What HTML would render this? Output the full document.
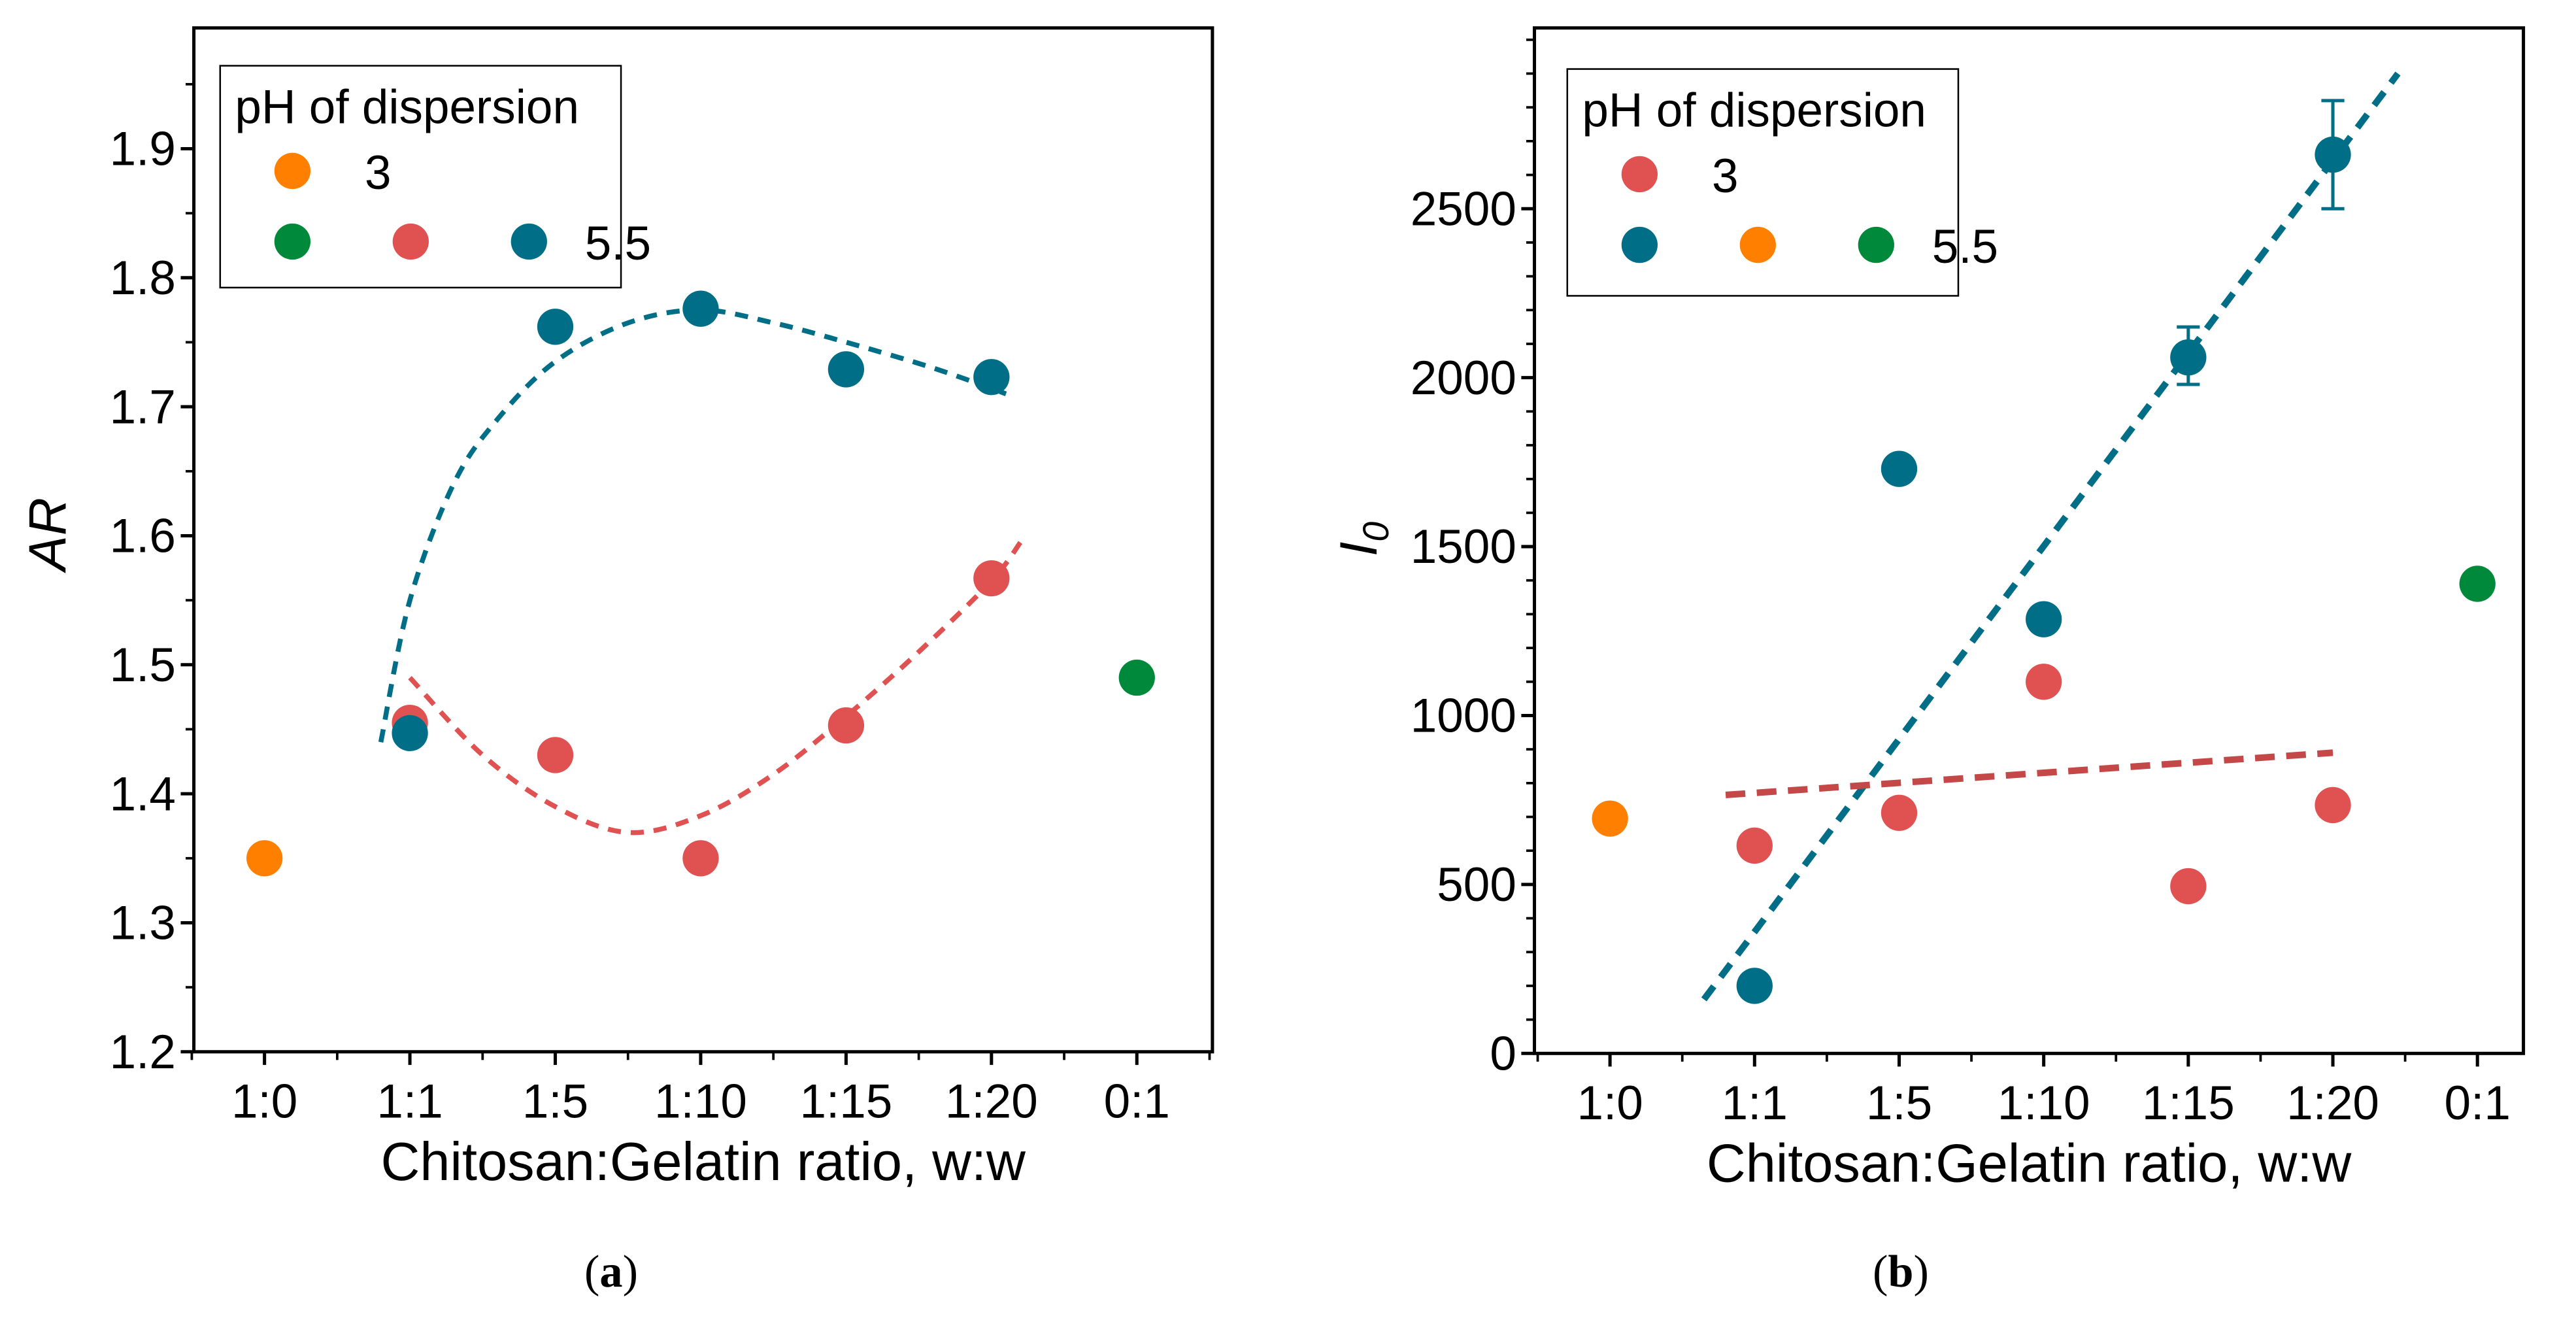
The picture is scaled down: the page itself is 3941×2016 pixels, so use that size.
<!DOCTYPE html>
<html><head><meta charset="utf-8"><style>
html,body{margin:0;padding:0;background:#fff;}
svg{display:block;}
text{font-family:"Liberation Sans",sans-serif;fill:#000;}
</style></head><body>
<svg id="chart" xmlns="http://www.w3.org/2000/svg" width="3941" height="2016" viewBox="0 0 1568 802" preserveAspectRatio="none">
</svg>
<script>
// ---- data panel (a)
const categories = ["1:0","1:1","1:5","1:10","1:15","1:20","0:1"];
const arTicks = [1.2,1.3,1.4,1.5,1.6,1.7,1.8,1.9];
const arOrange = [[0,1.35]];
const arRed = [[1,1.455],[2,1.43],[3,1.35],[4,1.453],[5,1.567]];
const arBlue = [[1,1.447],[2,1.762],[3,1.776],[4,1.729],[5,1.723]];
const arGreen = [[6,1.49]];
const arBlueFit = [[0.8,1.44],[1,1.55],[1.3,1.64],[1.6,1.69],[2,1.735],[2.5,1.765],[3,1.775],[3.5,1.765],[4,1.75],[4.6,1.73],[5.1,1.71]];
const arRedFit = [[1,1.49],[1.5,1.43],[2,1.39],[2.5,1.37],[3,1.383],[3.5,1.415],[4,1.46],[4.5,1.51],[5,1.565],[5.2,1.595]];
// ---- data panel (b)
const ioTicks = [0,500,1000,1500,2000,2500];
const ioOrange = [[0,695]];
const ioRed = [[1,615],[2,712],[3,1100],[4,495],[5,735]];
const ioBlue = [[1,200],[2,1730],[3,1285],[4,2060],[5,2660]];
const ioBlueErr = [[4,1980,2150],[5,2500,2820]];
const ioGreen = [[6,1390]];
const ioBlueFit = [[0.65,160],[5.45,2900]];
const ioRedFit = [[0.8,765],[5.0,890]];

const NS="http://www.w3.org/2000/svg";
const svg=document.getElementById('chart');
function mk(tag,attrs,parent){const e=document.createElementNS(NS,tag);for(const k in attrs)e.setAttribute(k,attrs[k]);(parent||svg).appendChild(e);return e;}
const C={orange:"#ff8000",red:"#e05252",blue:"#006e87",green:"#00893a",red2:"#c44848"};

function smoothPath(P){
  let d='M'+P[0][0]+','+P[0][1];
  for(let i=0;i<P.length-1;i++){
    const p0=P[Math.max(0,i-1)],p1=P[i],p2=P[i+1],p3=P[Math.min(P.length-1,i+2)];
    const c1=[p1[0]+(p2[0]-p0[0])/6,p1[1]+(p2[1]-p0[1])/6];
    const c2=[p2[0]-(p3[0]-p1[0])/6,p2[1]-(p3[1]-p1[1])/6];
    d+=` C${c1[0]},${c1[1]} ${c2[0]},${c2[1]} ${p2[0]},${p2[1]}`;
  }
  return d;
}

function panel(o){
  const g=mk('g',{});
  
  
  const X=i=>o.x0+i*o.dx;
  const Y=v=>o.yb-(v-o.vmin)*o.k;
  const box=mk('rect',{x:o.L,y:o.T,width:o.R-o.L,height:o.B-o.T,fill:'none',stroke:'#000','stroke-width':2},g);
  
  
  o.ticks.forEach(t=>{
    mk('line',{x1:o.L-8,x2:o.L,y1:Y(t),y2:Y(t),stroke:'#000','stroke-width':2},g);
    const tx=mk('text',{x:o.L-11,y:Y(t)+10,'text-anchor':'end','font-size':29},g);
    tx.textContent=o.fmt(t);
    
    
  });
  for(let v=o.vmin+o.minor;Y(v)>o.T+2;v+=o.minor){
    mk('line',{x1:o.L-5,x2:o.L,y1:Y(v),y2:Y(v),stroke:'#000','stroke-width':1.5},g);
  }
  categories.forEach((c,i)=>{
    mk('line',{x1:X(i),x2:X(i),y1:o.B,y2:o.B+8,stroke:'#000','stroke-width':2},g);
    mk('line',{x1:X(i-0.5),x2:X(i-0.5),y1:o.B,y2:o.B+5,stroke:'#000','stroke-width':1.5},g);
    const tx=mk('text',{x:X(i),y:o.B+40,'text-anchor':'middle','font-size':29},g);
    tx.textContent=c;
    
    
  });
  if(X(6.5)<=o.R+1) mk('line',{x1:X(6.5),x2:X(6.5),y1:o.B,y2:o.B+5,stroke:'#000','stroke-width':1.5},g);
  const xt=mk('text',{x:(o.L+o.R)/2,y:o.B+78,'text-anchor':'middle','font-size':33},g);
  xt.textContent='Chitosan:Gelatin ratio, w:w';
  
  
  o.fits.forEach(f=>{
    const p=mk('path',{d:smoothPath(f.pts.map(q=>[X(q[0]),Y(q[1])])),fill:'none',stroke:f.c,'stroke-width':f.w,'stroke-dasharray':f.d},g);
    
    
  });
  (o.err||[]).forEach(e=>{
    mk('line',{x1:X(e[0]),x2:X(e[0]),y1:Y(e[1]),y2:Y(e[2]),stroke:C.blue,'stroke-width':2},g);
    mk('line',{x1:X(e[0])-7,x2:X(e[0])+7,y1:Y(e[1]),y2:Y(e[1]),stroke:C.blue,'stroke-width':2},g);
    mk('line',{x1:X(e[0])-7,x2:X(e[0])+7,y1:Y(e[2]),y2:Y(e[2]),stroke:C.blue,'stroke-width':2},g);
  });
  o.series.forEach(s=>{
    s.pts.forEach(q=>{
      const c=mk('circle',{cx:X(q[0]),cy:Y(q[1]),r:11,fill:s.c},g);
      
      
    });
  });
  const lg=mk('g',{},g);
  
  
  mk('rect',{x:o.lx,y:o.ly,width:o.lw,height:o.lh,fill:'#fff',stroke:'#000','stroke-width':1},lg);
  const lt=mk('text',{x:o.lx+9,y:o.ly+35,'font-size':29},lg);
  lt.textContent='pH of dispersion';
  o.leg1.forEach((c,i)=>{mk('circle',{cx:o.lx+44+i*72,cy:o.ly+64,r:11,fill:c},lg);});
  const t3=mk('text',{x:o.lx+88,y:o.ly+75,'font-size':29},lg);t3.textContent='3';
  o.leg2.forEach((c,i)=>{mk('circle',{cx:o.lx+44+i*72,cy:o.ly+107,r:11,fill:c},lg);});
  const t5=mk('text',{x:o.lx+222,y:o.ly+118,'font-size':29},lg);t5.textContent='5.5';
  const yt=mk('text',{transform:`translate(${o.ytx},${o.yty}) rotate(-90)`,'text-anchor':'middle','font-size':32,'font-style':'italic'},g);
  if(o.io){yt.innerHTML='I<tspan font-size="22" dy="7">0</tspan>';}else{yt.textContent='AR';}
  
  
  const cap=mk('text',{x:o.capx,y:783,'text-anchor':'middle','font-size':28,style:'font-family:"Liberation Serif",serif'},g);
  cap.innerHTML='(<tspan font-weight="bold">'+o.cap+'</tspan>)';
  
  
}

panel({name:'panel-a',L:118,R:738,T:17,B:640,x0:161,dx:88.5,yb:640,vmin:1.2,k:785,minor:0.05,ticks:arTicks,fmt:v=>v.toFixed(1),
  fits:[{pts:arBlueFit,c:C.blue,w:3,d:'8,6',n:'fit-ph55'},{pts:arRedFit,c:C.red,w:3,d:'8,6',n:'fit-ph3'}],
  series:[{pts:arOrange,c:C.orange,n:'point-orange'},{pts:arRed,c:C.red,n:'point-red'},{pts:arBlue,c:C.blue,n:'point-blue'},{pts:arGreen,c:C.green,n:'point-green'}],
  lx:134,ly:40,lw:244,lh:135,leg1:[C.orange],leg2:[C.green,C.red,C.blue],ytx:40,yty:325,cap:'a',capx:372});
panel({name:'panel-b',io:true,L:934,R:1536,T:17,B:641,x0:980,dx:88,yb:641,vmin:0,k:0.2056,minor:100,ticks:ioTicks,fmt:v=>String(v),
  fits:[{pts:ioBlueFit,c:C.blue,w:4,d:'10,7',n:'fit-ph55'},{pts:ioRedFit,c:C.red2,w:4,d:'12,7',n:'fit-ph3'}],
  err:ioBlueErr,
  series:[{pts:ioOrange,c:C.orange,n:'point-orange'},{pts:ioRed,c:C.red,n:'point-red'},{pts:ioBlue,c:C.blue,n:'point-blue'},{pts:ioGreen,c:C.green,n:'point-green'}],
  lx:954,ly:42,lw:238,lh:138,leg1:[C.red],leg2:[C.blue,C.orange,C.green],ytx:838,yty:328,cap:'b',capx:1157});
</script>
</body></html>
